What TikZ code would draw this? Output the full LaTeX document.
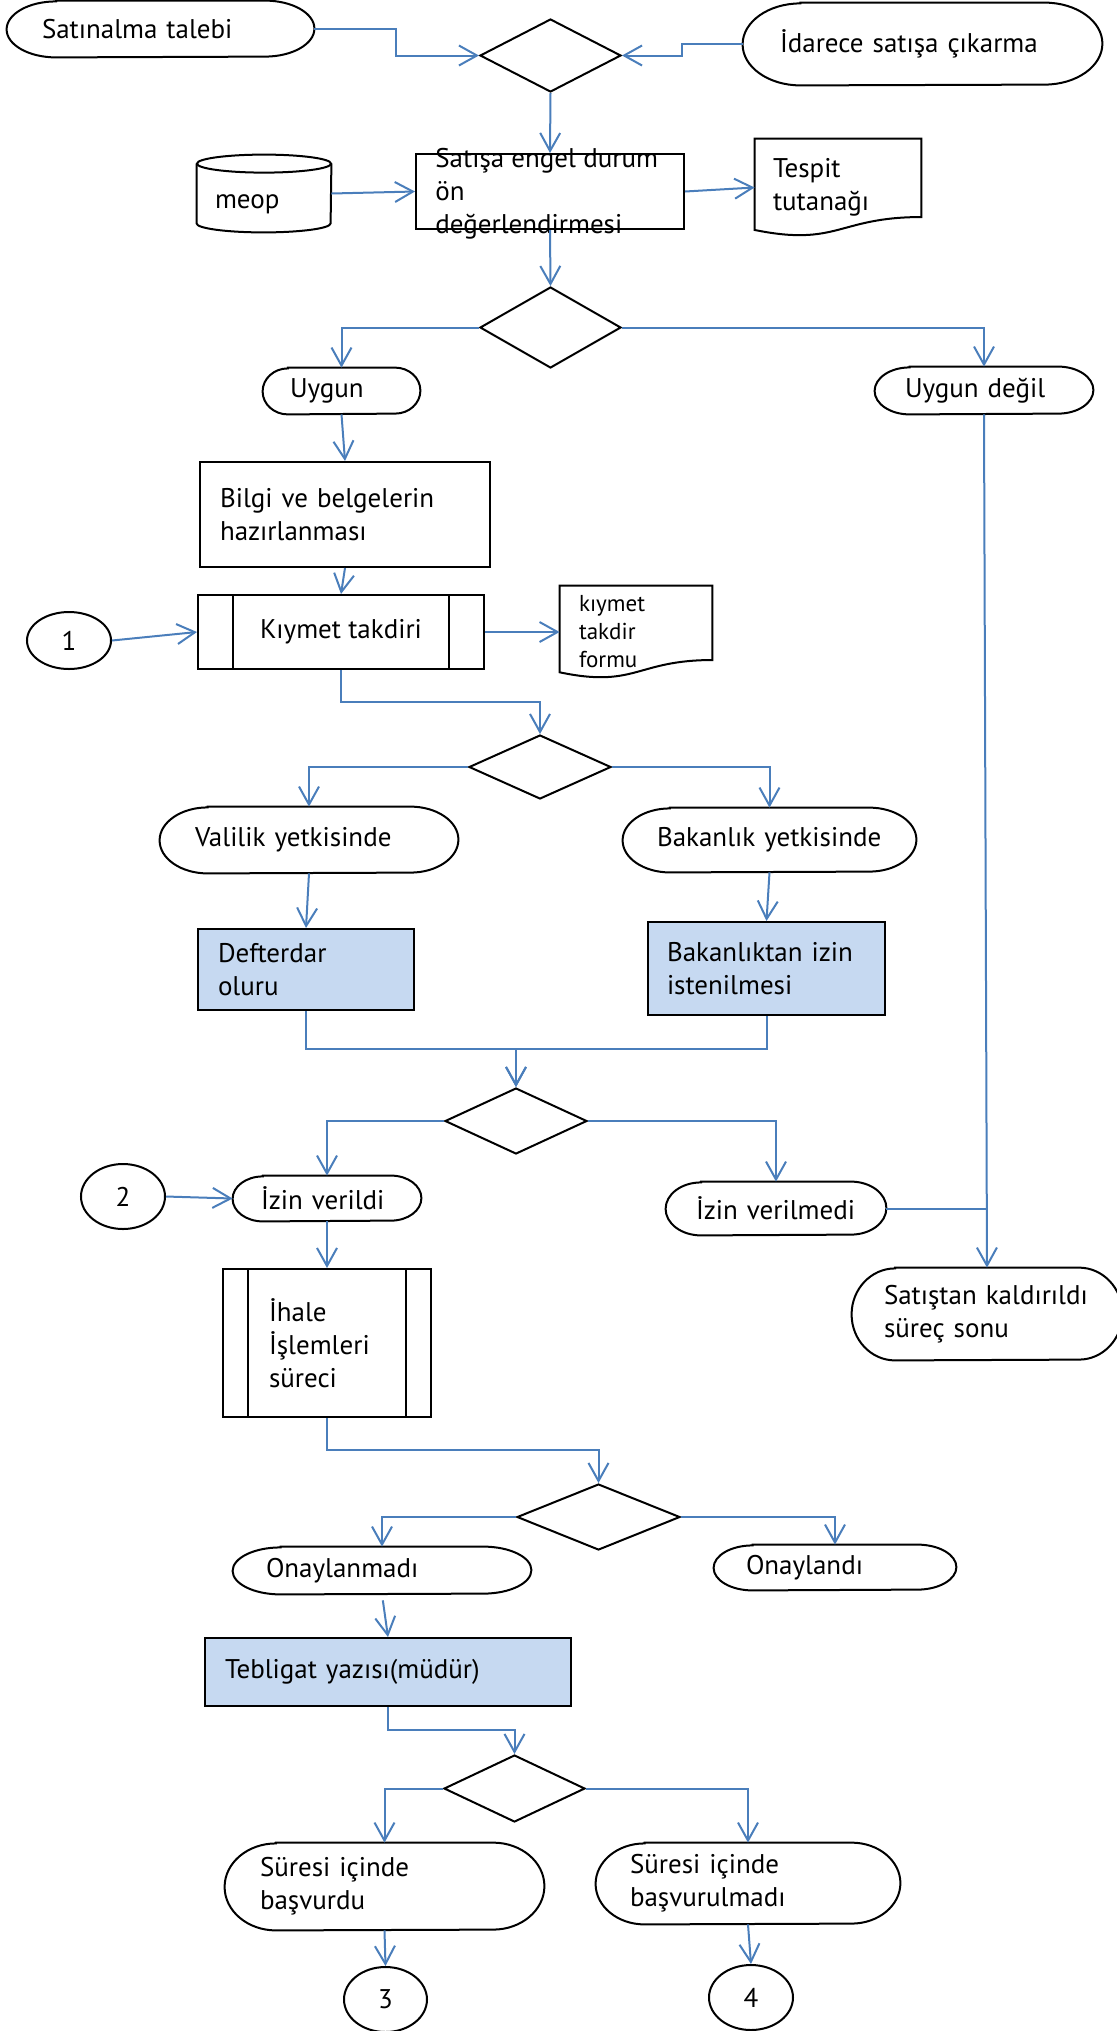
\documentclass[tikz,border=0pt]{standalone}
\usepackage{fontspec}
\setmainfont{PT Sans}
\usetikzlibrary{arrows.meta, shapes.geometric, calc}

\definecolor{flowblue}{RGB}{74,126,187}
\definecolor{procfill}{RGB}{198,217,241}

\newcommand{\mainsize}{\fontsize{13.5}{16.5}\selectfont}
\newcommand{\smallsize}{\fontsize{11.5}{14}\selectfont}

% terminal: name, position, width, height, left inset, text
\newcommand{\flowterm}[6]{%
    \node[txt, wh={#3}{#4}, tw={#3-2*#5}] (#1) at (#2) {#6};
    \draw[shapeline] ($(#1.north west)+(0.161*#3,0)$) -- ($(#1.north east)+(-0.161*#3,0)$)
        arc[start angle=90, end angle=-90, x radius={0.0805pt*#3}, y radius={0.25pt*#4}]
        -- ($(#1.south west)+(0.161*#3,0)$)
        arc[start angle=270, end angle=90, x radius={0.0805pt*#3}, y radius={0.25pt*#4}]
        -- cycle;}

% document outline round a node
\newcommand{\docline}[1]{%
    \draw[shapeline] (#1.north west) -- (#1.north east) -- ($(#1.north east)!0.802!(#1.south east)$)
        .. controls ($(#1.north)!0.802!(#1.south)$) and ($(#1.north)!1.1075!(#1.south)$) .. ($(#1.north west)!0.934!(#1.south west)$)
        -- cycle;}

% side bars of a predefined process
\newcommand{\sidebars}[1]{%
    \draw[shapeline] ($(#1.north west)!0.125!(#1.north east)$) -- ($(#1.south west)!0.125!(#1.south east)$);
    \draw[shapeline] ($(#1.north east)!0.125!(#1.north west)$) -- ($(#1.south east)!0.125!(#1.south west)$);}

\tikzset{
    shapeline/.style={draw=black, line width=1pt},
    flow/.style={draw=flowblue, line width=1pt, -{Straight Barb[length=9pt,width=10pt]}},
    link/.style={draw=flowblue, line width=1pt},
    wh/.style 2 args={minimum width={(#1)*0.5pt}, minimum height={(#2)*0.5pt}},
    tw/.style={text width={(#1)*0.5pt}},
    txt/.style={inner sep=0pt, align=left, font=\mainsize},
    proc/.style={txt, shapeline, rectangle},
    filled/.style={proc, fill=procfill},
    dec/.style={shapeline, diamond, inner sep=0pt},
    conn/.style={shapeline, ellipse, inner sep=0pt, align=center, font=\mainsize}
}

\begin{document}
\begin{tikzpicture}[x=0.5pt, y=-0.5pt]
    \useasboundingbox (0,0) rectangle (1117,2031);

    % start
    \flowterm{satinalma}{160.5,29}{307}{56}{35}{Satınalma~talebi}
    \flowterm{idarece}{922.5,44}{359}{82}{37}{İdarece~satışa~çıkarma}
    \node[dec, wh={141}{73}] (d1) at (550.5,55.5) {};

    \node[proc, wh={268}{75}] (satisa) at (550,191.5) {};
    \node[txt, anchor=west] (satisatext) at (435,194) {Satışa~engel~durum\\ön\\değerlendirmesi};

    \node[txt, wh={134}{77}, tw={98}] (meop) at (264,193.5) {\raisebox{-7.7pt}[0pt][0pt]{meop}};
    \draw[shapeline] ($(meop.north west)+(0,9)$) -- ($(meop.south west)+(0,-9)$)
        arc[start angle=180, end angle=360, x radius=33.5pt, y radius=4.5pt] -- ($(meop.north east)+(0,9)$);
    \draw[shapeline] ($(meop.north)+(0,9)$) ellipse[x radius=33.5pt, y radius=4.5pt];

    \node[txt, wh={166}{97}, tw={130}] (tespit) at (838,187.5) {Tespit\\tutanağı};
    \docline{tespit}

    \node[dec, wh={141}{81}] (d2) at (550.5,327.5) {};
    \flowterm{uygun}{341.5,391}{157}{46}{27}{Uygun}
    \flowterm{uygundegil}{984,390.5}{218}{47}{30}{Uygun~değil}

    \node[proc, wh={290}{105}, tw={250}] (bilgi) at (345,514.5) {Bilgi~ve~belgelerin\\hazırlanması};
    \node[proc, align=center, wh={286}{74}] (kiymet) at (341,632) {Kıymet takdiri};
    \sidebars{kiymet}
    \node[conn, wh={84}{57}] (c1) at (69,640.5) {1};
    \node[txt, font=\smallsize, wh={152}{92}, tw={114}] (formu) at (636,632) {kıymet\\takdir\\formu};
    \docline{formu}

    % yetki
    \node[dec, wh={142}{64}] (d3) at (540,767) {};
    \flowterm{valilik}{309,840}{298}{66}{35}{Valilik~yetkisinde}
    \flowterm{bakanlik}{769.5,840}{293}{64}{34}{Bakanlık~yetkisinde}
    \node[filled, wh={216}{81}, tw={176}] (defterdar) at (306,969.5) {Defterdar\\oluru};
    \node[filled, wh={237}{93}, tw={199}] (bakanliktan) at (766.5,968.5) {Bakanlıktan~izin\\istenilmesi};

    \node[dec, wh={142}{66}] (d4) at (516,1121) {};
    \node[conn, wh={84}{65}] (c2) at (123,1196.5) {2};
    \flowterm{izinverildi}{327,1198.5}{188}{45}{28}{İzin~verildi}
    \flowterm{izinverilmedi}{776,1208.5}{220}{53}{30}{İzin~verilmedi}
    \flowterm{satistan}{987,1314}{270}{92}{32}{Satıştan~kaldırıldı\\süreç~sonu}

    % ihale
    \node[proc, wh={208}{148}, tw={116}] (ihale) at (327,1343) {İhale\\İşlemleri\\süreci};
    \sidebars{ihale}
    \node[dec, wh={163}{66}] (d5) at (598.5,1517) {};
    \flowterm{onaylanmadi}{382,1570.5}{298}{47}{33}{Onaylanmadı}
    \flowterm{onaylandi}{835,1567.5}{242}{45}{32}{Onaylandı}
    \node[filled, wh={366}{68}, tw={326}] (tebligat) at (388,1672) {Tebligat~yazısı(müdür)};

    \node[dec, wh={141}{67}] (d6) at (514.5,1788.5) {};
    \flowterm{suresi1}{384.5,1886.5}{319}{87}{35}{Süresi~içinde\\başvurdu}
    \flowterm{suresi2}{748,1883.5}{304}{81}{34}{Süresi~içinde\\başvurulmadı}
    \node[conn, wh={83}{65}] (c3) at (385.5,1999.5) {3};
    \node[conn, wh={84}{65}] (c4) at (751,1997.5) {4};

    % connectors
    \draw[flow] (satinalma.east) -| (396,40) |- (d1.west);
    \draw[flow] (idarece.west) -| (682,50) |- (d1.east);
    \draw[flow] (d1.south) -- (satisa.north);
    \draw[flow] (meop.east) -- (satisa.west);
    \draw[flow] (satisa.east) -- (tespit.west);
    \draw[flow] (satisa.south) -- (d2.north);
    \draw[flow] (d2.west) -| (uygun.north);
    \draw[flow] (d2.east) -| (uygundegil.north);
    \draw[flow] (uygun.south) -- (bilgi.north);
    \draw[flow] (bilgi.south) -- (kiymet.north);
    \draw[flow] (c1.east) -- (kiymet.west);
    \draw[flow] (kiymet.east) -- (formu.west);
    \draw[flow] (kiymet.south) |- (540,702) -- (d3.north);
    \draw[flow] (d3.west) -| (valilik.north);
    \draw[flow] (d3.east) -| (bakanlik.north);
    \draw[flow] (valilik.south) -- (defterdar.north);
    \draw[flow] (bakanlik.south) -- (bakanliktan.north);
    \coordinate (merge) at (516,1049);
    \draw[flow] (defterdar.south) |- (merge) -- (d4.north);
    \draw[flow] (bakanliktan.south) |- (merge) -- (d4.north);
    \draw[flow] (d4.west) -| (izinverildi.north);
    \draw[flow] (d4.east) -| (izinverilmedi.north);
    \draw[flow] (c2.east) -- (izinverildi.west);
    \draw[flow] (uygundegil.south) -- (satistan.north);
    \draw[link] (izinverilmedi.east) -- (izinverilmedi.east -| satistan.north);
    \draw[flow] (izinverildi.south) -- (ihale.north);
    \draw[flow] (ihale.south) |- (598.5,1450) -- (d5.north);
    \draw[flow] (d5.west) -| (onaylanmadi.north);
    \draw[flow] (d5.east) -| (onaylandi.north);
    \draw[flow, shorten <=3pt] (onaylanmadi.south) -- (tebligat.north);
    \draw[flow] (tebligat.south) |- (514.5,1730) -- (d6.north);
    \draw[flow] (d6.west) -| (suresi1.north);
    \draw[flow] (d6.east) -| (suresi2.north);
    \draw[flow] (suresi1.south) -- (c3.north);
    \draw[flow] (suresi2.south) -- (c4.north);
\end{tikzpicture}
\end{document}
